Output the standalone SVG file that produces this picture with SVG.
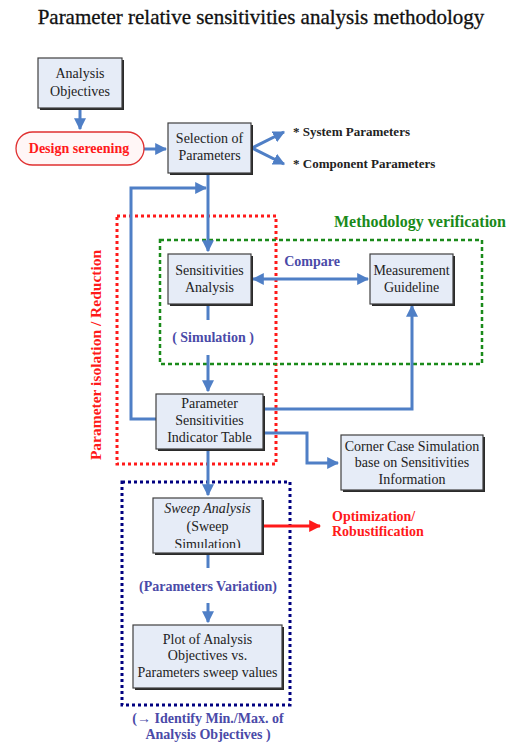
<svg xmlns="http://www.w3.org/2000/svg" width="516" height="747" viewBox="0 0 516 747" font-family="'Liberation Serif', 'Times New Roman', serif">
<defs>
<marker id="ah" viewBox="0 0 10 10" refX="9" refY="5" markerWidth="4" markerHeight="4" orient="auto-start-reverse" markerUnits="strokeWidth"><path d="M0,0 L10,5 L0,10 z" fill="#4f7fc6"/></marker>
<marker id="ahr" viewBox="0 0 10 10" refX="9" refY="5" markerWidth="4" markerHeight="4" orient="auto" markerUnits="strokeWidth"><path d="M0,0 L10,5 L0,10 z" fill="#ff1a1a"/></marker>
<clipPath id="sweepclip"><rect x="153" y="498" width="109" height="50"/></clipPath>
</defs>
<style>
.box{fill:#e6ecf7;stroke:#404040;stroke-width:1.2;}
.sh{fill:#2a2a2a;}
.t{font-size:14px;fill:#222;text-anchor:middle;}
.c{fill:none;stroke:#4f7fc6;stroke-width:3;}
.lb{font-size:14px;font-weight:bold;fill:#4a4aa8;text-anchor:middle;}
.bullet{font-size:13px;font-weight:bold;fill:#222;}
</style>
<rect width="516" height="747" fill="#ffffff"/>
<text x="261" y="24" font-size="21" text-anchor="middle" fill="#111" stroke="#111" stroke-width="0.3">Parameter relative sensitivities analysis methodology</text>

<g id="regions">
<rect x="117" y="216" width="159" height="248" fill="none" stroke="#ff1a1a" stroke-width="3" stroke-dasharray="3,3"/>
<rect x="160" y="240" width="322" height="124" fill="none" stroke="#1a8a1a" stroke-width="2.5" stroke-dasharray="4,3"/>
<rect x="122" y="482" width="168" height="223" fill="none" stroke="#000080" stroke-width="3" stroke-dasharray="3,3"/>
<text x="101" y="355" transform="rotate(-90 101 355)" font-size="15.5" font-weight="bold" fill="#ff1a1a" text-anchor="middle">Parameter isolation / Reduction</text>
<text x="420" y="227" font-size="16" font-weight="bold" fill="#1a8a1a" text-anchor="middle">Methodology verification</text>
</g>

<g id="connectors">
<path class="c" d="M80,108 V129" marker-end="url(#ah)"/>
<path class="c" d="M144,149 H166" marker-end="url(#ah)"/>
<path class="c" d="M252,148 L284,132" marker-end="url(#ah)"/>
<path class="c" d="M252,148 L284,164" marker-end="url(#ah)"/>
<path class="c" d="M208,173 V251" marker-end="url(#ah)"/>
<path class="c" d="M156,419 H131 V188 H206" marker-end="url(#ah)"/>
<path class="c" d="M253,279 H368" marker-start="url(#ah)" marker-end="url(#ah)"/>
<path class="c" d="M208,304 V320"/>
<path class="c" d="M208,355 V391" marker-end="url(#ah)"/>
<path class="c" d="M263,409 H412 V306" marker-end="url(#ah)"/>
<path class="c" d="M263,433 H307 V463 H338" marker-end="url(#ah)"/>
<path class="c" d="M208,449 V495" marker-end="url(#ah)"/>
<path class="c" d="M208,553 V568"/>
<path class="c" d="M208,603 V622" marker-end="url(#ah)"/>
<path d="M262,526 H320" fill="none" stroke="#ff1a1a" stroke-width="3" marker-end="url(#ahr)"/>
</g>

<g id="analysis-objectives">
<rect class="sh" x="40" y="60" width="84" height="50"/>
<rect class="box" x="38" y="58" width="84" height="50"/>
<text class="t" x="80" y="78">Analysis</text>
<text class="t" x="80" y="96">Objectives</text>
</g>

<g id="design-screening">
<rect x="16" y="132" width="128" height="33" rx="16.5" fill="#fff6f6" stroke="#e03030" stroke-width="1.3"/>
<text x="79" y="153" font-size="14" font-weight="bold" fill="#ff1a1a" text-anchor="middle">Design sereening</text>
</g>

<g id="selection">
<rect class="sh" x="170" y="125" width="83" height="50"/>
<rect class="box" x="168" y="123" width="83" height="50"/>
<text class="t" x="209.5" y="143">Selection of</text>
<text class="t" x="209.5" y="160">Parameters</text>
</g>

<g id="param-lists">
<text class="bullet" x="293" y="136">* System Parameters</text>
<text class="bullet" x="293" y="168">* Component Parameters</text>
</g>

<g id="sensitivities-analysis">
<rect class="sh" x="170" y="256" width="83" height="50"/>
<rect class="box" x="168" y="254" width="83" height="50"/>
<text class="t" x="209.5" y="275">Sensitivities</text>
<text class="t" x="209.5" y="292">Analysis</text>
</g>

<g id="measurement">
<rect class="sh" x="372" y="256" width="83" height="50"/>
<rect class="box" x="370" y="254" width="83" height="50"/>
<text class="t" x="411.5" y="275">Measurement</text>
<text class="t" x="411.5" y="292">Guideline</text>
</g>

<g id="labels">
<text class="lb" x="312" y="266">Compare</text>
<text class="lb" x="213" y="342">( Simulation )</text>
<text class="lb" x="208" y="591">(Parameters Variation)</text>
<text class="lb" x="208" y="723">(→ Identify Min./Max. of</text>
<text class="lb" x="208" y="739">Analysis Objectives )</text>
</g>

<g id="indicator-table">
<rect class="sh" x="158" y="396" width="107" height="55"/>
<rect class="box" x="156" y="394" width="107" height="55"/>
<text class="t" x="209.5" y="408">Parameter</text>
<text class="t" x="209.5" y="425">Sensitivities</text>
<text class="t" x="209.5" y="442">Indicator Table</text>
</g>

<g id="corner-case">
<rect class="sh" x="343" y="437" width="142" height="55"/>
<rect class="box" x="341" y="435" width="142" height="55"/>
<text class="t" x="412" y="451">Corner Case Simulation</text>
<text class="t" x="412" y="467">base on Sensitivities</text>
<text class="t" x="412" y="484">Information</text>
</g>

<g id="sweep">
<rect class="sh" x="155" y="500" width="109" height="55"/>
<rect class="box" x="153" y="498" width="109" height="55"/>
<text class="t" x="207.5" y="513" font-style="italic">Sweep Analysis</text>
<text class="t" x="207.5" y="531">(Sweep</text>
<text class="t" x="207.5" y="549" clip-path="url(#sweepclip)">Simulation)</text>
</g>

<g id="optimization">
<text x="332" y="521" font-size="14" font-weight="bold" fill="#ff1a1a">Optimization/</text>
<text x="332" y="536" font-size="14" font-weight="bold" fill="#ff1a1a">Robustification</text>
</g>

<g id="plot">
<rect class="sh" x="135" y="627" width="149" height="63"/>
<rect class="box" x="133" y="625" width="149" height="63"/>
<text class="t" x="207.5" y="644">Plot of Analysis</text>
<text class="t" x="207.5" y="660">Objectives vs.</text>
<text class="t" x="207.5" y="677">Parameters sweep values</text>
</g>
</svg>
